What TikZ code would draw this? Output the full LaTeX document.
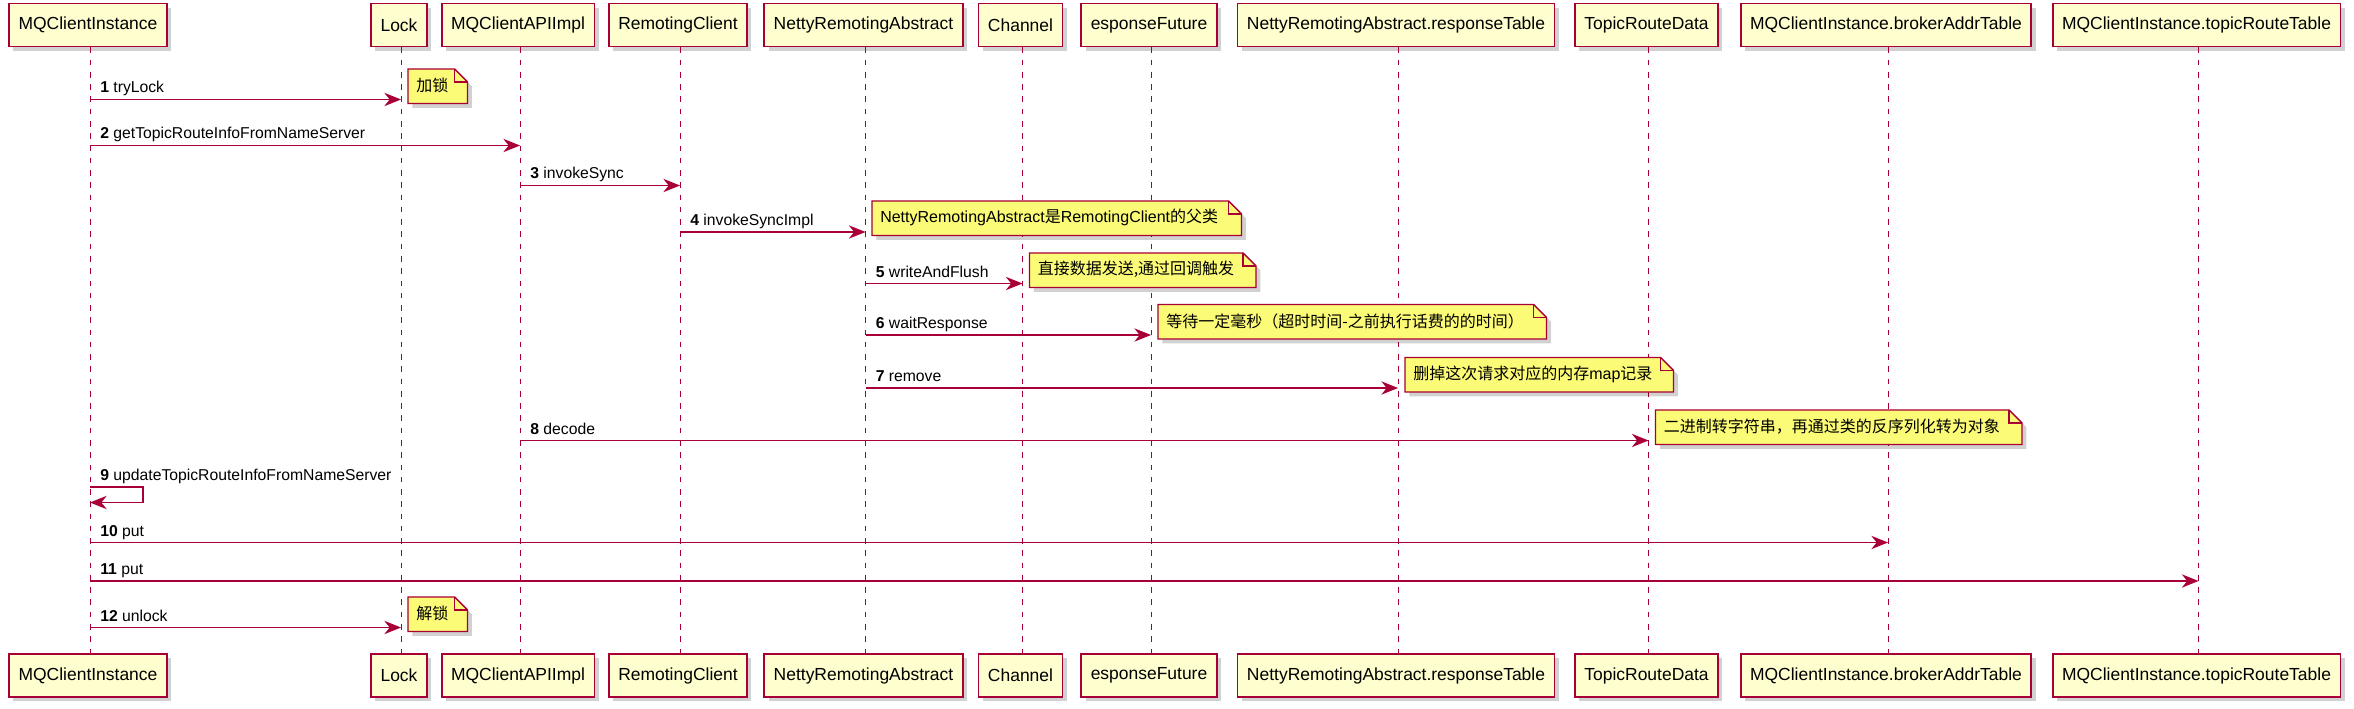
\documentclass[tikz,border=0pt]{standalone}
\usepackage{fontspec}
\setmainfont{Liberation Sans}
\newfontfamily\cjk{Noto Sans CJK SC}
\usetikzlibrary{arrows.meta}
\definecolor{pborder}{HTML}{A80036}
\definecolor{pfill}{HTML}{FEFECE}
\definecolor{nfill}{HTML}{FBFB77}
\newcommand\mynote[5]{%
  \node[notebg,minimum width=#4*0.75pt] (#1) at (#2,#3) {};
  \path[notepath] (#1.south west) -- (#1.north west) -- ([xshift=-9.75pt]#1.north east) -- ([yshift=-9.75pt]#1.north east) -- (#1.south east) -- cycle;
  \draw[draw=pborder,line width=1pt] ([xshift=-9.75pt]#1.north east) -- ([xshift=-9.75pt,yshift=-9.75pt]#1.north east) -- ([yshift=-9.75pt]#1.north east);
  \node[notetxt] (#1t) at ([xshift=6pt,yshift=0.5pt]#1.west) {#5};}
\begin{document}
\begin{tikzpicture}[x=0.75pt,y=-0.75pt,
  shadowed/.style={preaction={fill=black,opacity=.18,transform canvas={xshift=3.2pt,yshift=-3.2pt}}},
  pbox/.style={shadowed,draw=pborder,fill=pfill,line width=1.4pt,minimum height=32.25pt,inner xsep=7.1pt,inner ysep=0pt,font=\fontsize{13.1pt}{15pt}\selectfont},
  lifeln/.style={draw=pborder,line width=0.75pt,dash pattern=on 4.2pt off 5pt},
  msgarrow/.style={draw=pborder,line width=1pt,-{Stealth[length=12.5pt,width=10pt,inset=4pt]}},
  msgl/.style={anchor=base west,inner sep=0pt,font=\fontsize{11.8pt}{14pt}\selectfont},
  notebg/.style={anchor=south west,minimum height=25.5pt,inner sep=0pt},
  notepath/.style={shadowed,draw=pborder,fill=nfill,line width=1pt,line join=miter},
  notetxt/.style={anchor=west,inner sep=0pt,font=\fontsize{12pt}{14pt}\selectfont}
]
\useasboundingbox[fill=white] (0,0) rectangle (2354,709);
% participants
\foreach \n/\x/\t in {A/90/MQClientInstance, B/401/Lock, C/520/MQClientAPIImpl, D/680/RemotingClient,
  E/865.5/NettyRemotingAbstract, F/1022.5/Channel, G/1151/esponseFuture, H/1398/NettyRemotingAbstract.responseTable,
  I/1648.5/TopicRouteData, J/1888/MQClientInstance.brokerAddrTable, K/2198.5/MQClientInstance.topicRouteTable}{
  \coordinate (l\n) at (\x,0);
  \node[pbox] (h\n) at (\x-2,25) {\t};
  \node[pbox] (f\n) at (\x-2,675.5) {\t};
  \draw[lifeln] ([xshift=1.5pt]h\n.south) -- ([xshift=1.5pt]f\n.north);
}
% messages
\draw[msgarrow] (lA |- 0,99.5) -- (lB |- 0,99.5);
\node[msgl] (m1) at (100,93) {\textbf{1} tryLock};
\draw[msgarrow] (lA |- 0,145.5) -- (lC |- 0,145.5);
\node[msgl] (m2) at (100,139) {\textbf{2} getTopicRouteInfoFromNameServer};
\draw[msgarrow] (lC |- 0,185.5) -- (lD |- 0,185.5);
\node[msgl] (m3) at (530,179) {\textbf{3} invokeSync};
\draw[msgarrow] (lD |- 0,232) -- (lE |- 0,232);
\node[msgl] (m4) at (690,225.5) {\textbf{4} invokeSyncImpl};
\draw[msgarrow] (lE |- 0,283.5) -- (lF |- 0,283.5);
\node[msgl] (m5) at (875.5,277) {\textbf{5} writeAndFlush};
\draw[msgarrow] (lE |- 0,335) -- (lG |- 0,335);
\node[msgl] (m6) at (875.5,328.5) {\textbf{6} waitResponse};
\draw[msgarrow] (lE |- 0,388) -- (lH |- 0,388);
\node[msgl] (m7) at (875.5,381.5) {\textbf{7} remove};
\draw[msgarrow] (lC |- 0,440.5) -- (lI |- 0,440.5);
\node[msgl] (m8) at (530,434) {\textbf{8} decode};
\coordinate (s9a) at (143,487);
\coordinate (s9b) at (143,502.5);
\draw[msgarrow] (lA |- s9a) -- (s9a) -- (s9b) -- (lA |- s9b);
\node[msgl] (m9) at (100,480.5) {\textbf{9} updateTopicRouteInfoFromNameServer};
\draw[msgarrow] (lA |- 0,542.5) -- (lJ |- 0,542.5);
\node[msgl] (m10) at (100,536) {\textbf{10} put};
\draw[msgarrow] (lA |- 0,581) -- (lK |- 0,581);
\node[msgl] (m11) at (100,574.5) {\textbf{11} put};
\draw[msgarrow] (lA |- 0,627.5) -- (lB |- 0,627.5);
\node[msgl] (m12) at (100,621) {\textbf{12} unlock};
% notes
\mynote{n1}{408}{103.5}{59}{\cjk 加锁}
\mynote{n4}{872}{235.5}{369}{NettyRemotingAbstract{\cjk 是}RemotingClient{\cjk 的父类}}
\mynote{n5}{1029.5}{287.5}{226}{\cjk 直接数据发送,通过回调触发}
\mynote{n6}{1158}{339}{388}{\cjk 等待一定毫秒（超时时间-之前执行话费的的时间）}
\mynote{n7}{1405}{392}{268}{{\cjk 删掉这次请求对应的内存}map{\cjk 记录}}
\mynote{n8}{1655.5}{444.5}{366}{\cjk 二进制转字符串，再通过类的反序列化转为对象}
\mynote{n12}{408}{631.5}{59}{\cjk 解锁}
\end{tikzpicture}
\end{document}
